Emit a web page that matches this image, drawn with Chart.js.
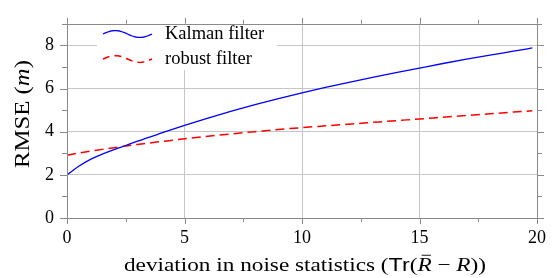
<!DOCTYPE html>
<html>
<head>
<meta charset="utf-8">
<script src="https://cdn.jsdelivr.net/npm/chart.js@4.4.1/dist/chart.umd.min.js"></script>
<style>
  html, body { margin: 0; padding: 0; background: #fff; }
  #wrap { width: 555px; height: 278px; }
</style>
</head>
<body>
<div id="wrap"><canvas id="chart" width="555" height="278"></canvas></div>
<script>
// Data
const deviation = [0, 0.5, 1, 1.5, 2, 2.5, 3, 4, 5, 6, 7, 8, 9, 10, 11, 12, 13, 14, 15, 16, 17, 18, 19, 19.8];
const kalmanRmse = [2.00, 2.40, 2.72, 2.96, 3.17, 3.36, 3.56, 3.93, 4.29, 4.63, 4.95, 5.25, 5.53, 5.80, 6.05, 6.29, 6.52, 6.74, 6.95, 7.16, 7.36, 7.55, 7.73, 7.88];
const robustRmse = [2.91, 3.01, 3.10, 3.18, 3.26, 3.34, 3.41, 3.54, 3.67, 3.79, 3.90, 4.00, 4.10, 4.19, 4.27, 4.35, 4.43, 4.51, 4.59, 4.67, 4.75, 4.83, 4.91, 4.97];
const seriesLabels = ['Kalman filter', 'robust filter'];
const xTickValues = [0, 5, 10, 15, 20];
const yTickValues = [0, 2, 4, 6, 8];

const gridColor = '#c6c6c6';
const frameColor = '#8a8a8a';
const serif = "'Liberation Serif', 'Times New Roman', serif";

function toPoints(ys) {
    return deviation.map((x, i) => ({ x: x, y: ys[i] }));
}

// draw a line of text made of parts with different fonts, squeezed/stretched to a width
function drawParts(ctx, parts, cx, baseline, width) {
    let total = 0;
    parts.forEach(p => { ctx.font = p.font; p.w = ctx.measureText(p.t).width; total += p.w; });
    const k = width ? width / total : 1;
    ctx.save();
    ctx.translate(cx - total * k / 2, baseline);
    ctx.scale(k, 1);
    let x = 0;
    parts.forEach(p => {
        ctx.font = p.font;
        ctx.fillText(p.t, x, 0);
        if (p.bar) {
            ctx.strokeStyle = '#000';
            ctx.lineWidth = 0.9;
            ctx.beginPath();
            ctx.moveTo(x + p.w * 0.3, -p.size * 0.83);
            ctx.lineTo(x + p.w * 0.95, -p.size * 0.83);
            ctx.stroke();
        }
        x += p.w;
    });
    ctx.restore();
}

// frame, outward ticks, legend and axis titles (pgfplots look)
const decorations = {
    id: 'decorations',
    afterDatasetsDraw(chart) {
        const ctx = chart.ctx;
        const a = chart.chartArea;
        const xs = chart.scales.x, ys = chart.scales.y;
        ctx.save();

        // legend box
        ctx.fillStyle = '#fff';
        ctx.fillRect(97, 20, 180, 50);
        const rows = [
            { label: seriesLabels[0], color: 'blue', dash: [], cy: 34, base: 39, lw: 1.3 },
            { label: seriesLabels[1], color: 'red', dash: [7, 5], cy: 59, base: 64, lw: 1.5 }
        ];
        rows.forEach(r => {
            ctx.strokeStyle = r.color;
            ctx.lineWidth = r.lw;
            ctx.setLineDash(r.dash);
            ctx.beginPath();
            for (let i = 0; i <= 40; i++) {
                const t = i / 40;
                const px = 103 + 49 * t;
                const py = r.cy - 3.4 * Math.sin(2 * Math.PI * t);
                if (i === 0) ctx.moveTo(px, py); else ctx.lineTo(px, py);
            }
            ctx.stroke();
            ctx.setLineDash([]);
            ctx.fillStyle = '#000';
            ctx.font = '18.5px ' + serif;
            ctx.textAlign = 'left';
            ctx.textBaseline = 'alphabetic';
            ctx.fillText(r.label, 165, r.base);
        });

        // frame
        ctx.strokeStyle = frameColor;
        ctx.lineWidth = 1;
        ctx.strokeRect(Math.round(a.left) + 0.5, Math.round(a.top) + 0.5,
            Math.round(a.right - a.left), Math.round(a.bottom - a.top));

        // ticks pointing outward on all four sides
        ctx.beginPath();
        for (let v = 0; v <= 20; v += 2.5) {
            const len = v % 5 === 0 ? 6 : 4;
            const px = Math.round(xs.getPixelForValue(v)) + 0.5;
            ctx.moveTo(px, a.bottom); ctx.lineTo(px, a.bottom + len);
            ctx.moveTo(px, a.top); ctx.lineTo(px, a.top - len);
        }
        for (let v = 0; v <= 9; v += 1) {
            const len = v % 2 === 0 ? 7 : 5;
            const py = Math.round(ys.getPixelForValue(v)) + 0.5;
            ctx.moveTo(a.left, py); ctx.lineTo(a.left - len, py);
            ctx.moveTo(a.right, py); ctx.lineTo(a.right + len, py);
        }
        ctx.stroke();

        // axis titles
        ctx.fillStyle = '#000';
        ctx.textAlign = 'left';
        ctx.textBaseline = 'alphabetic';
        const fs = 19;
        const rm = fs + 'px ' + serif;
        const it = 'italic ' + fs + 'px ' + serif;
        const sf = fs + "px 'Liberation Sans', Arial, sans-serif";
        drawParts(ctx, [
            { t: 'deviation in noise statistics (', font: rm },
            { t: 'Tr', font: sf },
            { t: '(', font: rm },
            { t: 'R', font: it, bar: true, size: fs },
            { t: ' \u2212 ', font: rm },
            { t: 'R', font: it },
            { t: '))', font: rm }
        ], 305, 271, 362);

        ctx.save();
        ctx.translate(29, 114);
        ctx.rotate(-Math.PI / 2);
        const fy = 21;
        drawParts(ctx, [
            { t: 'RMSE (', font: fy + 'px ' + serif },
            { t: 'm', font: 'italic ' + fy + 'px ' + serif },
            { t: ')', font: fy + 'px ' + serif }
        ], 0, 0, 108);
        ctx.restore();

        ctx.restore();
    }
};

new Chart(document.getElementById('chart'), {
    type: 'line',
    data: {
        datasets: [
            {
                label: seriesLabels[0],
                data: toPoints(kalmanRmse),
                borderColor: 'blue',
                borderWidth: 1.3,
                pointRadius: 0,
                cubicInterpolationMode: 'monotone',
                fill: false
            },
            {
                label: seriesLabels[1],
                data: toPoints(robustRmse),
                borderColor: 'red',
                borderWidth: 1.5,
                borderDash: [9, 5],
                pointRadius: 0,
                cubicInterpolationMode: 'monotone',
                fill: false
            }
        ]
    },
    options: {
        responsive: false,
        animation: false,
        devicePixelRatio: 1,
        layout: { padding: { top: 13, right: 12, bottom: 0, left: 0 } },
        plugins: { legend: { display: false }, tooltip: { enabled: false } },
        scales: {
            x: {
                type: 'linear',
                min: 0,
                max: 20,
                afterBuildTicks: s => { s.ticks = xTickValues.map(v => ({ value: v })); },
                afterFit: s => { s.height = 60; },
                ticks: { font: { family: serif, size: 18 }, color: '#000', padding: 9, maxRotation: 0 },
                grid: { color: gridColor, drawTicks: false },
                border: { display: false }
            },
            y: {
                min: 0,
                max: 9,
                afterBuildTicks: s => { s.ticks = yTickValues.map(v => ({ value: v })); },
                afterFit: s => { s.width = 67; },
                ticks: { font: { family: serif, size: 18 }, color: '#000', padding: 13 },
                grid: { color: gridColor, drawTicks: false },
                border: { display: false }
            }
        }
    },
    plugins: [decorations]
});
</script>
</body>
</html>
